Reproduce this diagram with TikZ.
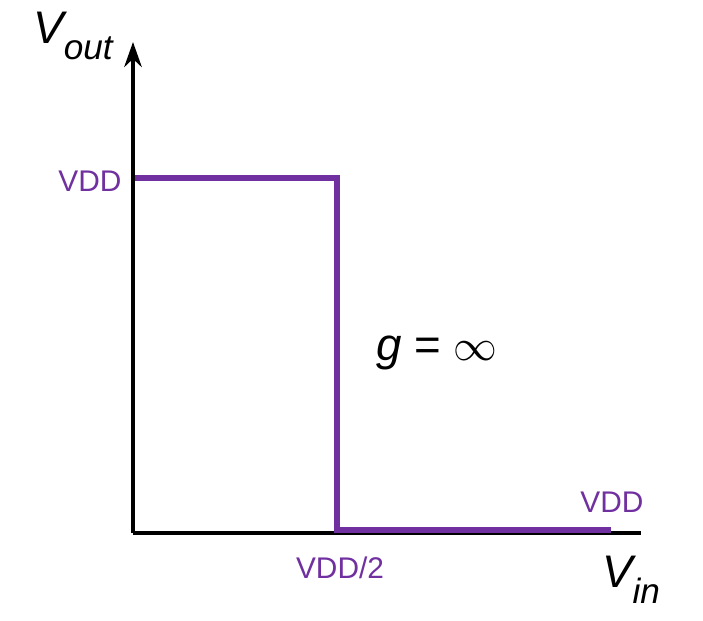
\documentclass[tikz,border=0pt]{standalone}
\usepackage{fontspec}
\setmainfont{Liberation Sans}
\usetikzlibrary{arrows.meta}
\definecolor{vddpurple}{RGB}{112,48,160}
\tikzset{lbl/.style={text=vddpurple,font=\fontsize{17}{20}\selectfont}}
\begin{document}
\begin{tikzpicture}[x=0.02cm,y=-0.02cm]
  \useasboundingbox (0,0) rectangle (703,620);
  % axes
  \coordinate (o) at (133,533);
  \coordinate (ytop) at (133,42);
  \coordinate (xend) at (641,533);
  \draw [line width=2.2pt,-{Stealth[length=5mm,width=3.5mm]}] (o) -- (ytop);
  \draw [line width=2.2pt] (o) -- (xend);
  % transfer curve
  \coordinate (a) at (135,178);
  \coordinate (b) at (337,178);
  \coordinate (c) at (337,530);
  \coordinate (d) at (611,530);
  \draw [vddpurple,line width=3.6pt] (a) -- (b) -- (c) -- (d);
  % labels
  \node (vout) at (73,36) {\fontsize{26}{30}\selectfont\itshape V\raisebox{-0.35em}{\fontsize{20}{24}\selectfont out}};
  \node (vin) at (631,580) {\fontsize{26}{30}\selectfont\itshape V\raisebox{-0.35em}{\fontsize{20}{24}\selectfont in}};
  \node [lbl] (vddl) at (90,181) {VDD};
  \node [lbl] (vddr) at (612,502) {VDD};
  \node [lbl] (vddh) at (340,568) {VDD/2};
  \node (gain) at (437,353) {\fontsize{26}{30}\selectfont\textit{g} = $\infty$};
\end{tikzpicture}
\end{document}
